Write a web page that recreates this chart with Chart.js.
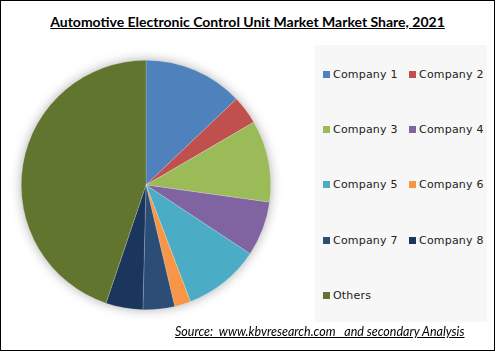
<!DOCTYPE html>
<html>
<head>
<meta charset="utf-8">
<script src="https://cdn.jsdelivr.net/npm/chart.js@4.4.1/dist/chart.umd.min.js"></script>
<style>
  html, body { margin: 0; padding: 0; background: #fff; }
  #frame { position: relative; width: 493px; height: 349px; border: 1px solid #000; background: #fff; overflow: hidden; }
  #title { position: absolute; left: 0; width: 493px; top: 12px; text-align: center; font-family: Lato, "Liberation Sans", sans-serif; font-weight: bold; font-size: 14px; color: #000; text-decoration: underline; }
  #pieWrap { position: absolute; left: -1px; top: 39px; width: 300px; height: 290px; }
  #legend { position: absolute; left: 314px; top: 44px; width: 172px; height: 277px; background: #f7f7f7; }
  .item { position: absolute; font-family: "DejaVu Sans", Verdana, sans-serif; font-size: 11px; color: #222; white-space: nowrap; letter-spacing: 0.2px; }
  .sw { display: inline-block; width: 7px; height: 7px; margin-right: 3px; vertical-align: 0px; }
  #source { position: absolute; left: 174px; top: 323px; font-family: Lato, "Liberation Sans", sans-serif; font-style: italic; font-size: 12.5px; color: #000; text-decoration: underline; white-space: pre; }
</style>
</head>
<body>
<div id="frame">
  <div id="title">Automotive Electronic Control Unit Market Market Share, 2021</div>
  <div id="pieWrap"><canvas id="c"></canvas></div>
  <div id="legend"></div>
  <div id="source">Source:  www.kbvresearch.com   and secondary Analysis</div>
</div>
<script>
const categories = ["Company 1", "Company 2", "Company 3", "Company 4", "Company 5", "Company 6", "Company 7", "Company 8", "Others"];
const shares = [12.9, 3.7, 10.6, 7.1, 9.9, 2.1, 4.1, 4.8, 44.8];
const colors = ["#4F81BD", "#C0504D", "#9BBB59", "#8064A2", "#4BACC6", "#F79646", "#2C4D75", "#1B365D", "#61752F"];

const shadowPlugin = {
  id: 'shadow',
  beforeDatasetsDraw(chart) {
    const meta = chart.getDatasetMeta(0);
    if (!meta.data.length) return;
    const a = meta.data[0];
    const ctx = chart.ctx;
    ctx.save();
    ctx.shadowColor = 'rgba(0,0,0,0.35)';
    ctx.shadowBlur = 12;
    ctx.shadowOffsetX = 0;
    ctx.shadowOffsetY = 0;
    ctx.fillStyle = '#ffffff';
    ctx.beginPath();
    ctx.arc(a.x, a.y, a.outerRadius - 0.5, 0, Math.PI * 2);
    ctx.fill();
    ctx.restore();
  }
};

new Chart(document.getElementById('c'), {
  type: 'pie',
  data: {
    labels: categories,
    datasets: [{
      data: shares,
      backgroundColor: colors,
      borderColor: 'rgba(255,255,255,0.35)',
      borderWidth: 0.5
    }]
  },
  options: {
    responsive: true,
    maintainAspectRatio: false,
    animation: false,
    layout: { padding: { left: 21, right: 29, top: 20, bottom: 20 } },
    plugins: {
      legend: { display: false },
      tooltip: { enabled: false },
      title: { display: false }
    }
  },
  plugins: [shadowPlugin]
});

// HTML legend in two columns built from the data arrays
const legend = document.getElementById('legend');
const rowTops = [30, 85, 140, 196, 251];
categories.forEach((name, i) => {
  const d = document.createElement('div');
  d.className = 'item';
  const col = i % 2, row = Math.floor(i / 2);
  d.style.left = (col === 0 ? 8 : 94) + 'px';
  d.style.top = (rowTops[row] - 7) + 'px';
  const sw = document.createElement('span');
  sw.className = 'sw';
  sw.style.background = colors[i];
  d.appendChild(sw);
  d.appendChild(document.createTextNode(name));
  legend.appendChild(d);
});
</script>
</body>
</html>
